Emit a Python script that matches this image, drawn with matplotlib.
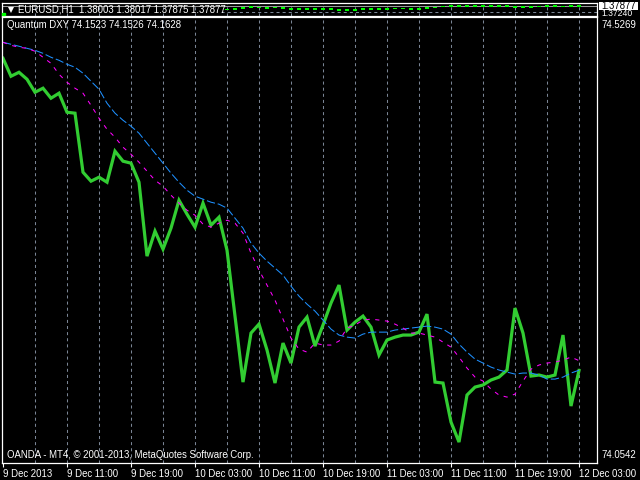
import matplotlib
matplotlib.use('Agg')
import matplotlib.pyplot as plt
from matplotlib.lines import Line2D
from matplotlib.patches import Rectangle
import numpy as np

plt.rcParams['font.family'] = ['Liberation Sans', 'DejaVu Sans']
plt.rcParams['lines.scale_dashes'] = False

# ---------------- data ----------------
dxy = [74.4834, 74.4644, 74.4686, 74.4612, 74.4474, 74.4517, 74.4411, 74.4464, 74.4262, 74.4252,
       74.3626, 74.3531, 74.3573, 74.3520, 74.3849, 74.3743, 74.3722, 74.3520, 74.2736, 74.3001,
       74.2810, 74.3033, 74.3329, 74.3181, 74.3043, 74.3298, 74.3064, 74.3149, 74.2799, 74.2100,
       74.1400, 74.1920, 74.2015, 74.1740, 74.1390, 74.1814, 74.1602, 74.1983, 74.2089, 74.1782,
       74.2005, 74.2238, 74.2429, 74.1952, 74.2036, 74.2100, 74.1983, 74.1687, 74.1846, 74.1877,
       74.1899, 74.1899, 74.1930, 74.2121, 74.1400, 74.1390, 74.0976, 74.0764, 74.1263, 74.1347,
       74.1369, 74.1422, 74.1453, 74.1528, 74.2185, 74.1920, 74.1464, 74.1475, 74.1453, 74.1475,
       74.1899, 74.1146, 74.1523]

ma_slow = [74.5004, 74.4983, 74.4962, 74.4940, 74.4919, 74.4887, 74.4845, 74.4813, 74.4771, 74.4739,
           74.4676, 74.4591, 74.4506, 74.4358, 74.4252, 74.4177, 74.4114, 74.4040, 74.3934, 74.3828,
           74.3722, 74.3616, 74.3520, 74.3435, 74.3372, 74.3340, 74.3308, 74.3287, 74.3245, 74.3139,
           74.3033, 74.2874, 74.2768, 74.2683, 74.2609, 74.2535, 74.2418, 74.2312, 74.2227, 74.2153,
           74.2058, 74.1962, 74.1899, 74.1877, 74.1867, 74.1909, 74.1930, 74.1930, 74.1930, 74.1952,
           74.1962, 74.1973, 74.1983, 74.1994, 74.1983, 74.1962, 74.1909, 74.1803, 74.1718, 74.1644,
           74.1602, 74.1559, 74.1528, 74.1506, 74.1485, 74.1496, 74.1496, 74.1475, 74.1432, 74.1432,
           74.1453, 74.1496, 74.1526]

ma_fast = [74.5004, 74.4972, 74.4951, 74.4940, 74.4909, 74.4845, 74.4781, 74.4665, 74.4580, 74.4517,
           74.4464, 74.4336, 74.4199, 74.4082, 74.3997, 74.3891, 74.3817, 74.3732, 74.3637, 74.3541,
           74.3478, 74.3382, 74.3298, 74.3223, 74.3170, 74.3075, 74.3043, 74.3086, 74.3117, 74.3086,
           74.2980, 74.2768, 74.2588, 74.2429, 74.2270, 74.2068, 74.1867, 74.1750, 74.1718, 74.1814,
           74.1793, 74.1793, 74.1835, 74.1973, 74.2005, 74.2058, 74.2068, 74.2058, 74.2047, 74.2015,
           74.1973, 74.1920, 74.1920, 74.1899, 74.1877, 74.1824, 74.1771, 74.1665, 74.1549, 74.1453,
           74.1411, 74.1326, 74.1263, 74.1241, 74.1273, 74.1411, 74.1538, 74.1581, 74.1602, 74.1612,
           74.1634, 74.1665, 74.1628]

eur_start = 28
eur_close = [1.3752, 1.3760, 1.3775, 1.3775, 1.3768, 1.3768, 1.3775, 1.3760, 1.3760, 1.3754,
             1.3760, 1.3754, 1.3757, 1.3752, 1.3747, 1.3747, 1.3754, 1.3754, 1.3757, 1.3760,
             1.3760, 1.3763, 1.3760, 1.3760, 1.3760, 1.3768, 1.3778, 1.3788, 1.3788, 1.3795,
             1.3788, 1.3788, 1.3785, 1.3785, 1.3785, 1.3785, 1.3778, 1.3778, 1.3781, 1.3785,
             1.3785, 1.3785, 1.3781, 1.3788, 1.3788]

time_labels = ['9 Dec 2013', '9 Dec 11:00', '9 Dec 19:00', '10 Dec 03:00', '10 Dec 11:00',
               '10 Dec 19:00', '11 Dec 03:00', '11 Dec 11:00', '11 Dec 19:00', '12 Dec 03:00']
label_step = 8
grid_step = 4

ind_top, ind_bot = 74.5269, 74.0542
bid_price, low_level = 1.37877, 1.37240
main_top, main_bot = 1.38180, 1.36897

header = 'EURUSD,H1  1.38003 1.38017 1.37875 1.37877'
ind_label = 'Quantum DXY 74.1523 74.1526 74.1628'
footer = 'OANDA - MT4, \u00a9 2001-2013, MetaQuotes Software Corp.'

# ---------------- layout ----------------
W, H = 640, 480
def fx(px): return px / W
def fy(py): return 1 - py / H

FS = 6.9
GRID_C = '#7a8595'
fig = plt.figure(figsize=(6.4, 4.8), dpi=100, facecolor='black')

L, R = 2, 597
xlim = ((L - 3) / 8, (R - 3) / 8)

# indicator window
ax = fig.add_axes([fx(L), fy(463), fx(R) - fx(L), (463 - 17.3) / H])
ax.set_facecolor('black')
ax.set_xlim(*xlim)
ax.set_ylim(ind_bot, ind_top)
n = len(dxy)
x = np.arange(n)
for g in range(grid_step, n, grid_step):
    ax.axvline(g, color=GRID_C, lw=0.75, dashes=(2.2, 2.2), zorder=1)
ax.plot(x, dxy, color='#32CD32', lw=2.3, solid_joinstyle='miter', zorder=2)
ax.plot(x, ma_slow, color='#1E90FF', lw=0.75, dashes=(6, 2), zorder=3)
ax.plot(x, ma_fast, color='#FF00FF', lw=0.75, dashes=(3, 4), zorder=4)
for s in ax.spines.values():
    s.set_color('white'); s.set_linewidth(0.9)
ax.set_yticks([])
ax.set_xticks(range(0, n, label_step))
ax.set_xticklabels(time_labels)
ax.tick_params(axis='x', colors='white', length=3, width=0.8, pad=1.5, labelsize=FS)
for t in ax.get_xticklabels():
    t.set_ha('left')

# main (price) window
ax0 = fig.add_axes([fx(L), fy(15.7), fx(R) - fx(L), (15.7 - 3) / H])
ax0.set_facecolor('black')
ax0.set_xlim(*xlim)
ax0.set_ylim(main_bot, main_top)
for g in range(grid_step, n, grid_step):
    ax0.axvline(g, color=GRID_C, lw=0.75, dashes=(2.2, 2.2), zorder=1)
ax0.axhline(bid_price, color='#9a9a9a', lw=0.75, zorder=1)
ax0.plot([eur_start - 0.8, xlim[1]], [low_level, low_level], color=GRID_C, lw=0.75,
         dashes=(2.2, 2.2), zorder=1)
ex = np.arange(eur_start, eur_start + len(eur_close))
opens = [eur_close[0]] + eur_close[:-1]
mh = 0.0018
for xi, o, c in zip(ex, opens, eur_close):
    lo = min(o, c); hgt = max(abs(c - o), mh)
    ax0.bar(xi, hgt, bottom=lo - (hgt - abs(c - o)) / 2, width=0.6, color='#00FF00',
            edgecolor='none', zorder=3)
for s in ax0.spines.values():
    s.set_color('white'); s.set_linewidth(0.9)
ax0.set_xticks([]); ax0.set_yticks([])

# header / labels
fig.add_artist(Line2D([fx(10.5)], [fy(10)], marker='v', markersize=5, color='white',
                      markeredgewidth=0))
fig.add_artist(Rectangle((fx(2), fy(15)), fx(3), 2 / H, color='#00FF00'))
fig.text(fx(18), fy(10), header, color='white', fontsize=FS, va='center', ha='left')
fig.text(fx(7), fy(25.5), ind_label, color='white', fontsize=FS, va='center', ha='left')
fig.text(fx(7), fy(455), footer, color='white', fontsize=FS, va='center', ha='left')

# right price scale (the lower level label sits partly under the bid box, as in MT4)
fig.text(fx(601), fy(13.8), '1.37240', color='white', fontsize=6.2, va='center', ha='left',
         zorder=4)
fig.add_artist(Rectangle((fx(599), fy(10)), fx(39), 8 / H, facecolor='white',
                         edgecolor='none', zorder=5))
fig.text(fx(601), fy(5.8), '1.37877', color='black', fontsize=FS, va='center', ha='left',
         zorder=6)
fig.text(fx(601), fy(25), '74.5269', color='white', fontsize=FS, va='center', ha='left')
fig.text(fx(601), fy(455), '74.0542', color='white', fontsize=FS, va='center', ha='left')

fig.savefig('out.png', dpi=100, facecolor='black')
